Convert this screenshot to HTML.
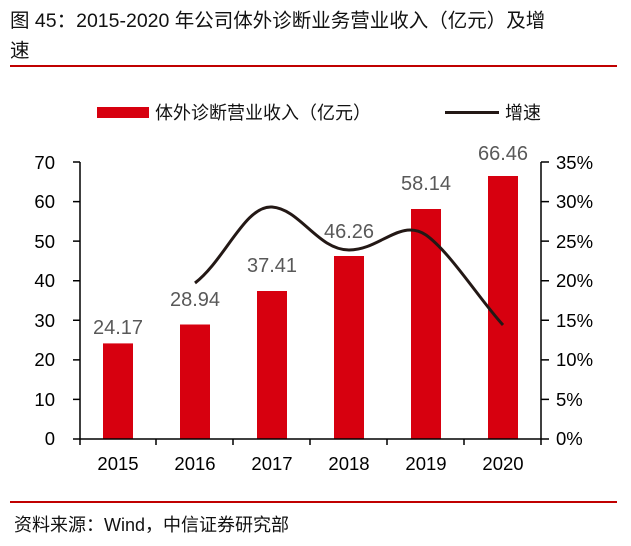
<!DOCTYPE html><html><head><meta charset="utf-8"><style>
body{margin:0;background:#fff;width:631px;height:541px;overflow:hidden}
text{font-family:"Liberation Sans","Noto Sans CJK SC",sans-serif}
</style></head><body>
<svg width="631" height="541" xmlns="http://www.w3.org/2000/svg">
<text x="10" y="27" font-size="19.5" fill="#111">图 45：2015-2020 年公司体外诊断业务营业收入（亿元）及增</text>
<text x="10" y="57" font-size="19.5" fill="#111">速</text>
<rect x="10" y="65" width="607" height="2" fill="#c00000"/>
<rect x="97" y="107" width="52" height="11" fill="#d7000f"/>
<text x="155" y="119" font-size="18" fill="#111">体外诊断营业收入（亿元）</text>
<rect x="445" y="111" width="54" height="3" fill="#231815"/>
<text x="505" y="119" font-size="18" fill="#111">增速</text>
<g fill="#d7000f">
<rect x="103" y="343.4" width="30" height="95.6"/>
<rect x="180" y="324.5" width="30" height="114.5"/>
<rect x="257" y="291" width="30" height="148"/>
<rect x="334" y="256" width="30" height="183"/>
<rect x="411" y="209" width="30" height="230"/>
<rect x="488" y="176" width="30" height="263"/>
</g>
<g stroke="#000" stroke-width="1.5" fill="none">
<path d="M80 162V439M541 162V439M73 439H549"/>
<path d="M73 162H80M73 201.6H80M73 241.1H80M73 280.7H80M73 320.3H80M73 359.9H80M73 399.4H80"/>
<path d="M541 162H549M541 201.6H549M541 241.1H549M541 280.7H549M541 320.3H549M541 359.9H549M541 399.4H549"/>
<path d="M80 439V445M156 439V445M233 439V445M310 439V445M387 439V445M464 439V445M541 439V445"/>
</g>
<g font-size="18.5" fill="#000" text-anchor="end">
<text x="55" y="169">70</text><text x="55" y="208">60</text><text x="55" y="248">50</text><text x="55" y="287">40</text><text x="55" y="327">30</text><text x="55" y="366">20</text><text x="55" y="406">10</text><text x="55" y="445">0</text>
</g>
<g font-size="18.5" fill="#000">
<text x="556" y="169">35%</text><text x="556" y="208">30%</text><text x="556" y="248">25%</text><text x="556" y="287">20%</text><text x="556" y="327">15%</text><text x="556" y="366">10%</text><text x="556" y="406">5%</text><text x="556" y="445">0%</text>
</g>
<g font-size="18.5" fill="#000" text-anchor="middle">
<text x="118" y="470">2015</text><text x="195" y="470">2016</text><text x="272" y="470">2017</text><text x="349" y="470">2018</text><text x="426" y="470">2019</text><text x="503" y="470">2020</text>
</g>
<g font-size="20" fill="#595959" text-anchor="middle">
<text x="118" y="334">24.17</text><text x="195" y="306">28.94</text><text x="272" y="272">37.41</text><text x="349" y="238">46.26</text><text x="426" y="190">58.14</text><text x="503" y="160">66.46</text>
</g>
<path d="M195 283 C225 260,245 205,272 207 C300 209,318 250,349 250 C380 250,400 218,426 235 C450 252,480 300,503 325" stroke="#231815" stroke-width="3" fill="none"/>
<rect x="10" y="501" width="607" height="2" fill="#c00000"/>
<text x="14" y="531" font-size="18" fill="#111">资料来源：Wind，中信证券研究部</text>
</svg>
</body></html>
